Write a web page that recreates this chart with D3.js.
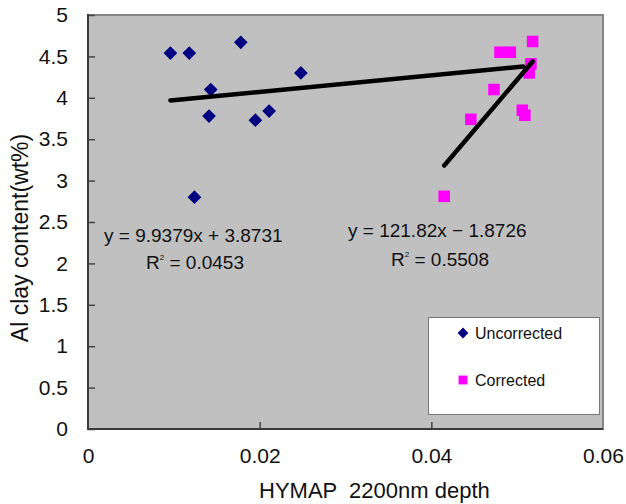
<!DOCTYPE html>
<meta charset="utf-8">
<head>
<title>Al clay vs HYMAP depth</title>
<style>
body { margin: 0; background-color: #FFF; }
text { font-family: 'Liberation Sans', Arial, sans-serif; fill: #111; }
.tick text { font-family: 'Liberation Sans', Arial, sans-serif; }
</style>
</head>
<body>
<script src="https://cdn.jsdelivr.net/npm/d3@7"></script>
<div id="chart"></div>
<script>
// values
var uncorrectedX = [0.0096, 0.0118, 0.0178, 0.0143, 0.0141, 0.0195, 0.0211, 0.0248, 0.0124];
var uncorrectedY = [4.54, 4.54, 4.67, 4.10, 3.78, 3.73, 3.84, 4.30, 2.80];
var correctedX = [0.0518, 0.0480, 0.0492, 0.0516, 0.0514, 0.0473, 0.0446, 0.0506, 0.0509, 0.0415];
var correctedY = [4.68, 4.55, 4.55, 4.41, 4.30, 4.10, 3.74, 3.85, 3.79, 2.81];

// trend lines: slope, intercept and x extent
var trendSlope = [9.9379, 121.82];
var trendIntercept = [3.8731, -1.8726];
var trendXStart = [0.0096, 0.0415];
var trendXEnd = [0.0507, 0.0518];

var xTicks = [0, 0.02, 0.04, 0.06];
var yTicks = [0, 0.5, 1, 1.5, 2, 2.5, 3, 3.5, 4, 4.5, 5];
var seriesNames = ["Uncorrected", "Corrected"];

var width = 626, height = 504;
var pLeft = 88, pTop = 15, pRight = 603, pBottom = 429;

var svg = d3.select("#chart").append("svg")
    .attr("width", width)
    .attr("height", height);

var x = d3.scaleLinear().domain([0, 0.06]).range([pLeft, pRight]);
var y = d3.scaleLinear().domain([0, 5]).range([pBottom, pTop]);

// plot area
svg.append("rect")
    .attr("x", pLeft).attr("y", pTop)
    .attr("width", pRight - pLeft).attr("height", pBottom - pTop)
    .attr("fill", "#C0C0C0")
    .attr("stroke", "#858585")
    .attr("stroke-width", 2);

// axes with inside ticks
var yAxis = svg.append("g")
    .attr("transform", "translate(" + pLeft + ",0)")
    .call(d3.axisRight(y).tickValues(yTicks).tickSize(7).tickFormat(function(d){return d;}));
yAxis.select(".domain").remove();
yAxis.selectAll(".tick line").attr("stroke", "#444").attr("stroke-width", 1.5);
yAxis.selectAll(".tick text")
    .attr("x", -20).attr("text-anchor", "end")
    .attr("font-size", 21).attr("fill", "#111");

var xAxis = svg.append("g")
    .attr("transform", "translate(0," + pBottom + ")")
    .call(d3.axisTop(x).tickValues(xTicks).tickSize(7).tickFormat(function(d){return d;}));
xAxis.select(".domain").remove();
xAxis.selectAll(".tick line").attr("stroke", "#444").attr("stroke-width", 1.5);
xAxis.selectAll(".tick text")
    .attr("y", 34).attr("dy", 0)
    .attr("font-size", 21).attr("fill", "#111");
xAxis.selectAll(".tick").filter(function(d){return d == 0 || d == 0.06;}).select("line").remove();

// dark axis lines on left and bottom
svg.append("line").attr("x1", pLeft).attr("x2", pLeft).attr("y1", pTop - 1).attr("y2", pBottom + 1)
    .attr("stroke", "#3a3a3a").attr("stroke-width", 2);
svg.append("line").attr("x1", pLeft - 1).attr("x2", pRight).attr("y1", pBottom).attr("y2", pBottom)
    .attr("stroke", "#3a3a3a").attr("stroke-width", 2);

var diamond = d3.symbol().type(d3.symbolDiamond2);
var square = d3.symbol().type(d3.symbolSquare2);

// points
svg.append("g").selectAll("path")
    .data(uncorrectedX.map(function(v, i){return [v, uncorrectedY[i]];}))
    .enter().append("path")
    .attr("d", diamond.size(120))
    .attr("transform", function(d){return "translate(" + x(d[0]) + "," + y(d[1]) + ")";})
    .attr("fill", "#000080");

svg.append("g").selectAll("path")
    .data(correctedX.map(function(v, i){return [v, correctedY[i]];}))
    .enter().append("path")
    .attr("d", square.size(170))
    .attr("transform", function(d){return "translate(" + x(d[0]) + "," + y(d[1]) + ")";})
    .attr("fill", "#FF00FF");

// trend lines
for (var i = 0; i < trendSlope.length; i++) {
    svg.append("line")
        .attr("x1", x(trendXStart[i]))
        .attr("y1", y(trendSlope[i] * trendXStart[i] + trendIntercept[i]))
        .attr("x2", x(trendXEnd[i]))
        .attr("y2", y(trendSlope[i] * trendXEnd[i] + trendIntercept[i]))
        .attr("stroke", "#000")
        .attr("stroke-width", 4.5)
        .attr("stroke-linecap", "round");
}

// equations
function rsq(xp, yp, val) {
    var t = svg.append("text").attr("x", xp).attr("y", yp).attr("font-size", 19);
    t.append("tspan").text("R");
    t.append("tspan").attr("font-size", 8).attr("dy", -9).text("2");
    t.append("tspan").attr("dy", 9).text(" = " + val);
}
svg.append("text").attr("x", 104).attr("y", 242).attr("font-size", 19).text("y = 9.9379x + 3.8731");
rsq(146, 269, "0.0453");
svg.append("text").attr("x", 348).attr("y", 237).attr("font-size", 19).text("y = 121.82x \u2212 1.8726");
rsq(391, 266, "0.5508");

// legend
svg.append("rect")
    .attr("x", 428.5).attr("y", 317.5)
    .attr("width", 171).attr("height", 97)
    .attr("fill", "#FFF").attr("stroke", "#777").attr("stroke-width", 1);
var legendY = [333, 380];
svg.append("path").attr("d", diamond.size(75)).attr("transform", "translate(463," + legendY[0] + ")").attr("fill", "#000080");
svg.append("path").attr("d", square.size(100)).attr("transform", "translate(463," + legendY[1] + ")").attr("fill", "#FF00FF");
seriesNames.forEach(function(n, i){
    svg.append("text").attr("x", 475).attr("y", legendY[i] + 6).attr("font-size", 16).text(n);
});

// axis titles
svg.append("text").attr("x", 259).attr("y", 498).attr("font-size", 22)
    .attr("xml:space", "preserve").text("HYMAP  2200nm depth");
svg.append("text")
    .attr("transform", "translate(28,238) rotate(-90)")
    .attr("text-anchor", "middle")
    .attr("font-size", 23)
    .text("Al clay content(wt%)");
</script>
</body>
